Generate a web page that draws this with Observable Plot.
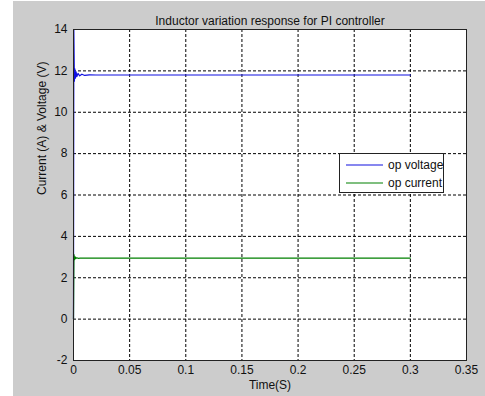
<!DOCTYPE html>
<html>
<head>
<meta charset="utf-8">
<script src="https://cdn.jsdelivr.net/npm/d3@7"></script>
<script src="https://cdn.jsdelivr.net/npm/@observablehq/plot@0.6"></script>
<style>
  body { margin: 0; background: #ffffff; }
  #fig { position: relative; width: 485px; height: 396px; background: #ffffff; overflow: hidden;
         font-family: "Liberation Sans", Arial, sans-serif; }
  #panel { position: absolute; left: 13px; top: 1px; right: 0; bottom: 0; background: #cccccc; }
  #chart { position: absolute; left: 0; top: 0; }
  #legend { position: absolute; left: 339px; top: 153px; width: 103px; height: 38px;
            border: 1px solid #222; background: #fff; font-size: 12px; color: #111; }
  #legend .row { position: absolute; left: 6px; height: 14px; display: flex; align-items: center;
                 white-space: nowrap; }
  #legend svg { margin-right: 5px; flex: none; }
</style>
</head>
<body>
<div id="fig">
  <div id="panel"></div>
  <div id="chart"></div>
  <div id="legend"></div>
</div>
<script>
// Output voltage of the converter (V) over time (s)
const voltageTime = [0, 0.0003, 0.0008, 0.0012, 0.0017, 0.0023, 0.003, 0.004, 0.0055, 0.0075, 0.01, 0.014, 0.02, 0.3];
const voltageValue = [0, 14, 11.5, 12.1, 11.65, 11.95, 11.72, 11.88, 11.76, 11.84, 11.78, 11.81, 11.8, 11.8];

// Output current (A) over time (s)
const currentTime = [0, 0.0004, 0.001, 0.0015, 0.002, 0.003, 0.004, 0.006, 0.3];
const currentValue = [0, 3.12, 2.88, 3.01, 2.93, 2.97, 2.94, 2.95, 2.95];

const xTicks = [0, 0.05, 0.1, 0.15, 0.2, 0.25, 0.3, 0.35];
const yTicks = [-2, 0, 2, 4, 6, 8, 10, 12, 14];

const seriesNames = ["op voltage", "op current"];
const seriesColors = ["#1010e0", "#008000"];

const titleText = "Inductor variation response for PI controller";
const xLabel = "Time(S)";
const yLabel = "Current (A) & Voltage (V)";

const voltage = voltageTime.map((t, i) => ({t, v: voltageValue[i]}));
const current = currentTime.map((t, i) => ({t, v: currentValue[i]}));

const dashed = {stroke: "#000", strokeOpacity: 1, strokeWidth: 1, strokeDasharray: "3,2"};

const chart = Plot.plot({
  width: 485,
  height: 396,
  marginLeft: 73,
  marginRight: 19,
  marginTop: 29,
  marginBottom: 36,
  style: {background: "transparent", fontFamily: "'Liberation Sans', Arial, sans-serif", fontSize: "12px", color: "#111"},
  x: {domain: [0, 0.35]},
  y: {domain: [-2, 14]},
  marks: [
    Plot.frame({fill: "#fff", stroke: null}),
    Plot.gridX(xTicks.slice(1, -1), dashed),
    Plot.gridY(yTicks.slice(1, -1), dashed),
    Plot.line(voltage, {x: "t", y: "v", stroke: seriesColors[0], strokeWidth: 1.2}),
    Plot.line(current, {x: "t", y: "v", stroke: seriesColors[1], strokeWidth: 1.2}),
    Plot.frame({stroke: "#222", strokeWidth: 1}),
    Plot.axisX({ticks: xTicks, tickSize: 0, tickPadding: 5, tickFormat: d => String(d), label: null, fontSize: 12}),
    Plot.axisY({ticks: yTicks, tickSize: 0, tickPadding: 6, tickFormat: d => String(d), label: null, fontSize: 12}),
    Plot.text([titleText], {frameAnchor: "top", dy: -13, fontSize: 12, fill: "#111"}),
    Plot.text([xLabel], {frameAnchor: "bottom", dy: 28, fontSize: 12, fill: "#111"}),
    Plot.text([yLabel], {frameAnchor: "left", dx: -31, rotate: -90, fontSize: 12, fill: "#111"})
  ]
});
document.getElementById("chart").append(chart);

// Legend box inside the axes
const legend = document.getElementById("legend");
seriesNames.forEach((name, i) => {
  const row = document.createElement("div");
  row.className = "row";
  row.style.top = (4 + i * 18) + "px";
  row.innerHTML = `<svg width="37" height="4"><line x1="0" y1="2" x2="37" y2="2" stroke="${seriesColors[i]}" stroke-width="1.2"/></svg><span>${name}</span>`;
  legend.append(row);
});
</script>
</body>
</html>
